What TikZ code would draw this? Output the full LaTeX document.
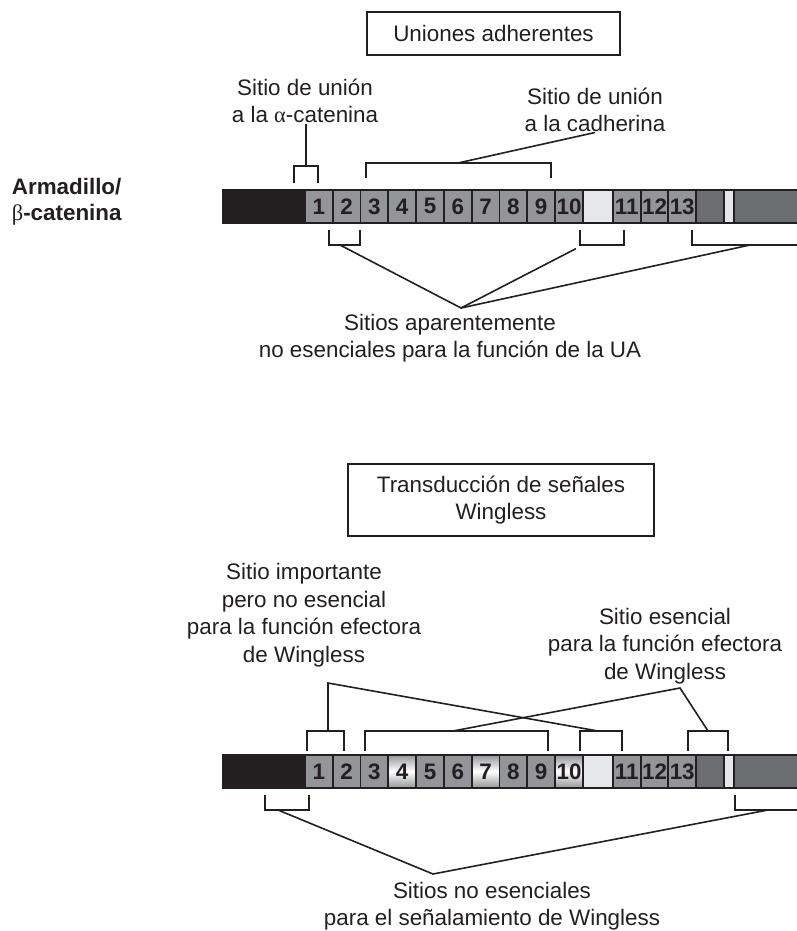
\documentclass[tikz,border=0pt]{standalone}
\usepackage{fontspec}
\setmainfont{Liberation Sans}
\newfontfamily\grk{Liberation Serif}
\usepackage{tikz}
\usetikzlibrary{positioning}
\definecolor{ink}{HTML}{231F20}
\definecolor{boxgray}{HTML}{939598}
\definecolor{darkseg}{HTML}{6D6E71}
\definecolor{paleseg}{HTML}{E6E7E8}

\begin{document}
\begin{tikzpicture}[x=0.5pt,y=-0.5pt,
  txt/.style={font=\fontsize{11.2}{13.75}\selectfont,text=ink,align=center,inner sep=0pt},
  title/.style={txt,draw=ink,line width=1pt},
  seg/.style={draw=ink,line width=0.9pt,inner sep=0pt,minimum height=16.5pt,anchor=north west,
    font=\bfseries\fontsize{11.2}{13}\selectfont,text=ink},
  grseg/.style={seg,fill=boxgray},
  shd/.style={seg,top color=boxgray,bottom color=boxgray,middle color=white},
  brk/.style={draw=ink,line width=0.8pt},
  lnk/.style={draw=ink,line width=0.8pt}]
\useasboundingbox (0,0) rectangle (797,931);

% the two Armadillo bars (w = shaded repeats 4, 7, 10)
\foreach \pr/\yy/\sh in {a/189/0,w/754/1}{
  \node[seg,fill=ink,minimum width=41pt] (\pr-n) at (222,\yy) {};
  \foreach \i in {1,...,10}{
    \pgfmathtruncatemacro\isshd{\sh*((\i==4)||(\i==7)||(\i==10))}
    \ifnum\isshd=1 \def\st{shd}\else\def\st{grseg}\fi
    \node[\st,minimum width=13.9pt] (\pr-\i) at ({304+(\i-1)*27.8},\yy) {\i};
  }
  \node[seg,fill=paleseg,minimum width=15pt] (\pr-gap) at (582,\yy) {};
  \foreach \i [count=\k from 0] in {11,12,13}
    \node[grseg,minimum width=13.9pt] (\pr-\i) at ({612+\k*27.7},\yy) {\i};
  \node[seg,fill=darkseg,minimum width=14pt] (\pr-d1) at (695,\yy) {};
  \node[seg,fill=paleseg,minimum width=5pt] (\pr-l1) at (723,\yy) {};
  \node[seg,fill=darkseg,minimum width=32pt] (\pr-d2) at (733,\yy) {};
}

\node[txt,font=\bfseries\fontsize{11.2}{13}\selectfont,align=left,anchor=east] (arm) at (122,202) {Armadillo/\\{\grk\mdseries β}-catenina};

% uniones adherentes
\node[title,minimum width=126.5pt,minimum height=21.5pt] (ua) at (493.5,33.5) {Uniones adherentes};
\node[txt] (alfa) at (305,101) {Sitio de unión\\a la {\grk α}-catenina};
\node[txt] (cad) at (595,110) {Sitio de unión\\a la cadherina};
\draw[brk] (294,183) -- (294,166) -- (318,166) -- (318,183);
\draw[brk] (366,178) -- (366,163) -- (551,163) -- (551,178);
\coordinate (kA) at (306,166);
\coordinate (kC) at (458,163);
\draw[lnk] (kA) -- (kA |- alfa.south);
\draw[lnk] (kC) -- (cad.south);

\draw[brk] (329,230) -- (329,245) -- (360,245) -- (360,230);
\draw[brk] (580,230) -- (580,245) -- (624,245) -- (624,230);
\draw[brk] (692,230) -- (692,245) -- (797,245);
\coordinate (bA) at (340,245);
\coordinate (bB) at (583,245);
\coordinate (bC) at (750,245);
\coordinate (apA) at (461,308);
\node[txt] (noua) at (450,338) {Sitios aparentemente\\no esenciales para la función de la UA};
\draw[lnk] (bA) -- (apA) -- (bC);
\draw[lnk,shorten <=4pt] (bB) -- (apA);

% transduccion Wingless
\node[title,minimum width=153pt,minimum height=36pt] (wg) at (501,500) {Transducción de señales\\Wingless};
\node[txt] (imp) at (304,615) {Sitio importante\\pero no esencial\\para la función efectora\\de Wingless};
\node[txt] (ese) at (665,646) {Sitio esencial\\para la función efectora\\de Wingless};
\draw[brk] (307,751) -- (307,731) -- (344,731) -- (344,751);
\draw[brk] (365,751) -- (365,731) -- (548,731) -- (548,751);
\draw[brk] (580,751) -- (580,731) -- (622,731) -- (622,751);
\draw[brk] (688,751) -- (688,731) -- (728,731) -- (728,751);
\coordinate (kL) at (328,731);
\coordinate (kM) at (453,731);
\coordinate (kX) at (598,731);
\coordinate (kR) at (708,731);
\coordinate (cnI) at (328,683);
\coordinate (pkE) at (680,688);
\draw[lnk] (kL) -- (cnI) -- (kX);
\draw[lnk] (kM) -- (pkE) -- (kR);

\draw[brk] (265,795) -- (265,810) -- (309,810) -- (309,795);
\draw[brk] (735,795) -- (735,810) -- (797,810);
\coordinate (bL) at (278,810);
\coordinate (bR) at (768,810);
\coordinate (apW) at (433,874);
\node[txt] (nose) at (492,906) {Sitios no esenciales\\para el señalamiento de Wingless};
\draw[lnk] (bL) -- (apW) -- (bR);
\end{tikzpicture}
\end{document}
